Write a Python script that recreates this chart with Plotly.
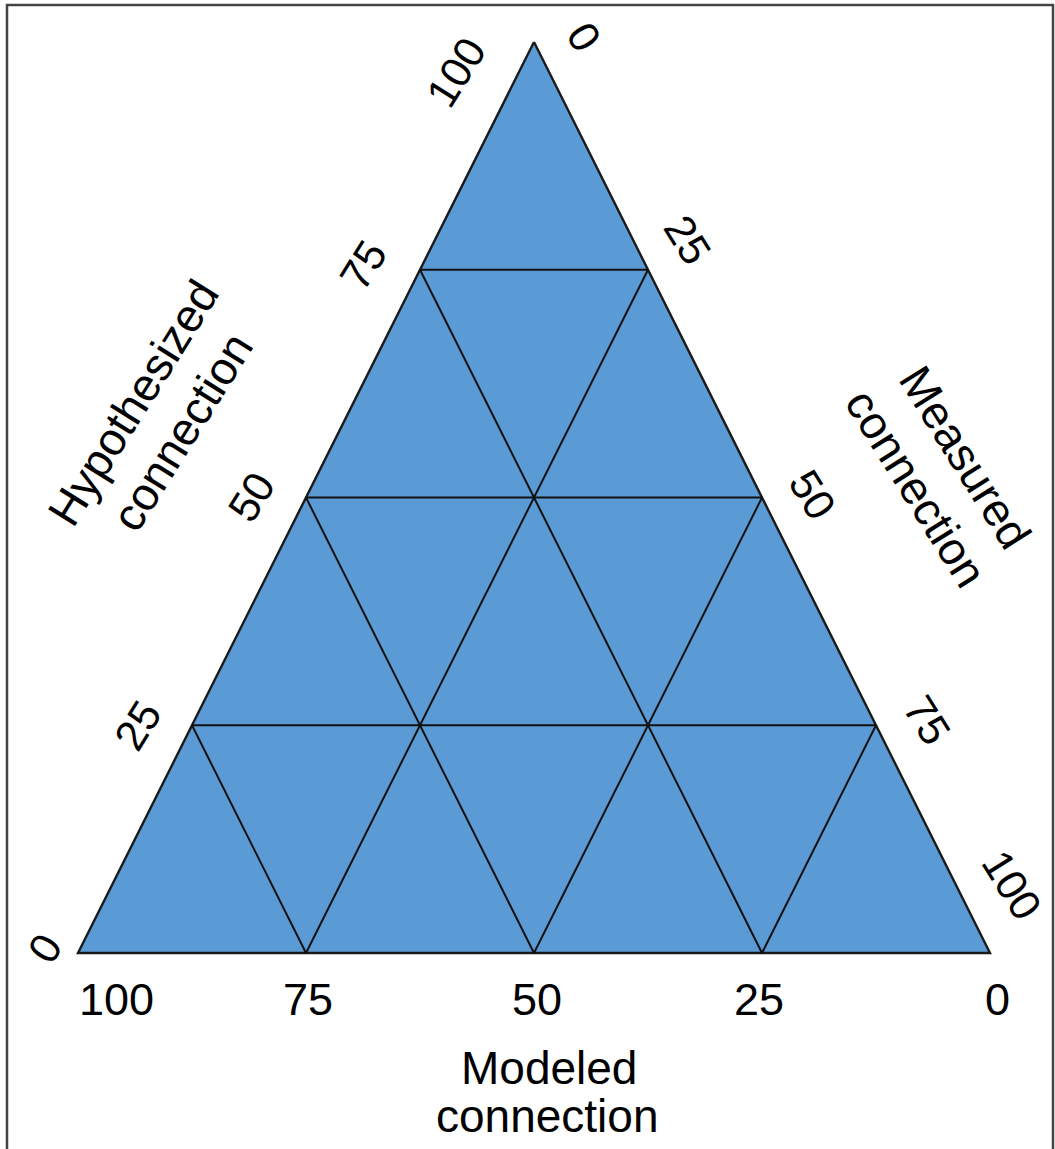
import plotly.graph_objects as go

# ---------------- data ----------------
tick_values = [0, 25, 50, 75, 100]
tick_labels = ["0", "25", "50", "75", "100"]
grid_values = [25, 50, 75]
hyp_title = ["Hypothesized", "connection"]
meas_title = ["Measured", "connection"]
mod_title = ["Modeled", "connection"]
fill_color = "#5B9BD5"

# ---------------- layout constants ----------------
W, H = 1055, 1149
PX_LEFT, PX_RIGHT, PX_BOTTOM, PX_TOP = 78, 990, 953, 42
SX = PX_RIGHT - PX_LEFT
SY = PX_BOTTOM - PX_TOP
FONT = "Liberation Sans, Arial, sans-serif"
TICK_SIZE = 43
BOTTOM_TICK_SIZE = 45
TITLE_SIZE = 46
ANG = 58


def tern(h, m):
    """h = Hypothesized (top vertex), m = Measured (bottom-right vertex)."""
    return (m + 0.5 * h) / 100.0, h / 100.0


def pp(px, py):
    return px / W, 1 - py / H


fig = go.Figure()

# filled triangle
corners = [(100, 0), (0, 100), (0, 0), (100, 0)]
tx, ty = zip(*[tern(h, m) for h, m in corners])
fig.add_trace(go.Scatter(x=tx, y=ty, mode="lines", fill="toself",
                         fillcolor=fill_color,
                         line=dict(color="#1a1a1a", width=2.4),
                         hoverinfo="skip", showlegend=False))

# grid lines
gx, gy = [], []
for v in grid_values:
    for (h1, m1), (h2, m2) in [((v, 0), (v, 100 - v)),          # const hypothesized
                               ((0, v), (100 - v, v)),          # const measured
                               ((0, 100 - v), (100 - v, 0))]:   # const modeled
        x1, y1 = tern(h1, m1)
        x2, y2 = tern(h2, m2)
        gx += [x1, x2, None]
        gy += [y1, y2, None]
fig.add_trace(go.Scatter(x=gx, y=gy, mode="lines",
                         line=dict(color="#111111", width=2),
                         hoverinfo="skip", showlegend=False))

# tick label offsets (screen px: dx right, dy down)
hyp_off = {0: (-33, -5), 25: (-54, 0), 50: (-55, -1), 75: (-57, -5), 100: (-78, 30)}
meas_off = {0: (50, -5), 25: (40, -30), 50: (51, -3), 75: (51, -5), 100: (22, -68)}
mod_off = {100: (38, 46), 75: (2, 46), 50: (3, 46), 25: (-3, 46), 0: (7, 46)}

ann = []
for v, lab in zip(tick_values, tick_labels):
    # Hypothesized (left edge)
    x, y = tern(v, 0)
    dx, dy = hyp_off[v]
    ann.append(dict(x=x, y=y, xref="x", yref="y", text=lab, showarrow=False,
                    xshift=dx, yshift=-dy, textangle=-ANG,
                    xanchor="center", yanchor="middle",
                    font=dict(size=TICK_SIZE, family=FONT, color="black")))
    # Measured (right edge)
    x, y = tern(100 - v, v)
    dx, dy = meas_off[v]
    ann.append(dict(x=x, y=y, xref="x", yref="y", text=lab, showarrow=False,
                    xshift=dx, yshift=-dy, textangle=ANG,
                    xanchor="center", yanchor="middle",
                    font=dict(size=TICK_SIZE, family=FONT, color="black")))
    # Modeled (bottom edge)
    x, y = tern(0, 100 - v)
    dx, dy = mod_off[v]
    ann.append(dict(x=x, y=y, xref="x", yref="y", text=lab, showarrow=False,
                    xshift=dx, yshift=-dy, textangle=0,
                    xanchor="center", yanchor="middle",
                    font=dict(size=BOTTOM_TICK_SIZE, family=FONT, color="black")))

# axis titles
title_specs = [
    (hyp_title, [(133, 403), (182, 432)], -ANG),
    (meas_title, [(965, 457), (916, 488)], ANG),
    (mod_title, [(549, 1068), (547, 1116)], 0),
]
for lines, centers, ang in title_specs:
    for txt, (cx, cy) in zip(lines, centers):
        px_, py_ = pp(cx, cy)
        ann.append(dict(x=px_, y=py_, xref="paper", yref="paper", text=txt,
                        showarrow=False, textangle=ang,
                        xanchor="center", yanchor="middle",
                        font=dict(size=TITLE_SIZE, family=FONT, color="black")))

# frame border (top, left, right)
bl, bt = pp(7, 5)
br, _ = pp(1053, 5)
shapes = [dict(type="path", xref="paper", yref="paper",
               path=f"M {bl} -0.01 L {bl} {bt} L {br} {bt} L {br} -0.01",
               line=dict(color="#444444", width=2.5))]

fig.update_layout(
    width=W, height=H,
    margin=dict(l=0, r=0, t=0, b=0),
    paper_bgcolor="white", plot_bgcolor="white",
    xaxis=dict(range=[-PX_LEFT / SX, (W - PX_LEFT) / SX], visible=False, fixedrange=True),
    yaxis=dict(range=[-(H - PX_BOTTOM) / SY, PX_BOTTOM / SY], visible=False, fixedrange=True),
    annotations=ann,
    shapes=shapes,
    showlegend=False,
)

fig.write_html(
    "out.html",
    config={"displayModeBar": False},
    post_script="document.body.style.margin='0px';document.body.style.overflow='hidden';",
)
